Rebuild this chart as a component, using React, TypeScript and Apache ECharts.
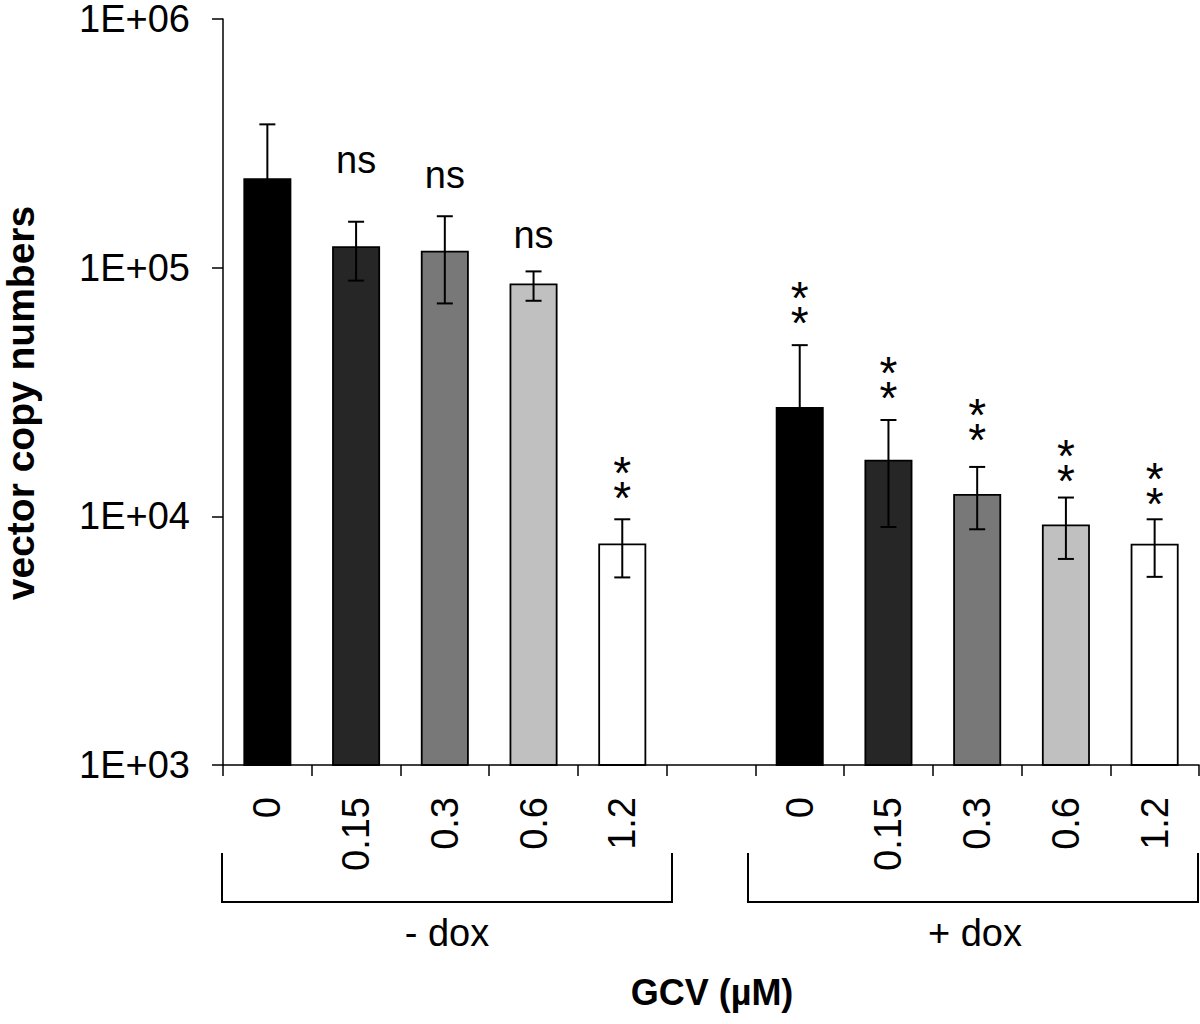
import React, { useEffect, useRef } from "react";
import * as echarts from "echarts";

const categories = ["0", "0.15", "0.3", "0.6", "1.2", "", "0", "0.15", "0.3", "0.6", "1.2"];
const meanValues = [229000, 122000, 117000, 86400, 7780, null, 27500, 16900, 12300, 9270, 7760];
const errHigh = [377000, 153000, 161000, 96600, 9730, null, 48800, 24400, 15800, 11900, 9730];
const errLow = [81000, 88700, 71800, 73600, 5680, null, 6200, 9060, 8870, 6740, 5710];
const barColors = ["#000000", "#262626", "#787878", "#c0c0c0", "#ffffff", "#ffffff", "#000000", "#262626", "#787878", "#c0c0c0", "#ffffff"];
const annotations = ["", "ns", "ns", "ns", "*\n*", "", "*\n*", "*\n*", "*\n*", "*\n*", "*\n*"];
const annotationAt = [null, 270000, 235000, 135000, 14300, null, 72200, 36000, 24500, 16700, 13600];
const yTickLabels: Record<number, string> = { 1000: "1E+03", 10000: "1E+04", 100000: "1E+05", 1000000: "1E+06" };
const groupLabels = ["- dox", "+ dox"];
const xTitle = "GCV (µM)";
const yTitle = "vector copy numbers";

const FONT = "'Liberation Sans', Arial, Helvetica, sans-serif";

export default function App() {
  const ref = useRef<HTMLDivElement>(null);
  useEffect(() => {
    if (!ref.current) return;
    const chart = echarts.init(ref.current, null, { renderer: "svg" });

    const barData = meanValues.map((v, i) =>
      v == null
        ? null
        : { value: v, itemStyle: { color: barColors[i], borderColor: "#000", borderWidth: 1.8 } }
    );
    const errData = meanValues
      .map((v, i) => (v == null ? null : [i, errLow[i], errHigh[i]]))
      .filter((d) => d != null);
    const annData = annotations
      .map((t, i) => (t ? [i, annotationAt[i], t] : null))
      .filter((d) => d != null);

    const option: any = {
      animation: false,
      backgroundColor: "#ffffff",
      textStyle: { fontFamily: FONT },
      grid: { left: 223, top: 19, right: 1, bottom: 259, containLabel: false },
      xAxis: {
        type: "category",
        data: categories,
        boundaryGap: true,
        axisLine: { lineStyle: { color: "#000", width: 1.5 } },
        axisTick: { show: true, length: 11, lineStyle: { color: "#000", width: 1.5 }, interval: 0 },
        axisLabel: {
          interval: 0,
          rotate: 90,
          margin: 32,
          fontSize: 38,
          color: "#000",
          fontFamily: FONT,
        },
      },
      yAxis: {
        type: "log",
        logBase: 10,
        min: 1000,
        max: 1000000,
        splitLine: { show: false },
        axisLine: { show: true, lineStyle: { color: "#000", width: 1.5 } },
        axisTick: { show: true, length: 11, lineStyle: { color: "#000", width: 1.5 } },
        axisLabel: {
          margin: 33,
          fontSize: 38,
          color: "#000",
          fontFamily: FONT,
          formatter: (v: number) => yTickLabels[Math.round(v)] ?? "",
        },
      },
      series: [
        {
          type: "bar",
          data: barData,
          barWidth: 48,
          clip: true,
          z: 2,
        },
        {
          type: "custom",
          z: 10,
          clip: false,
          data: errData,
          renderItem: (params: any, api: any) => {
            const x = api.value(0);
            const lo = api.value(1);
            const hi = api.value(2);
            const pHi = api.coord([x, hi]);
            const pLo = api.coord([x, lo]);
            const half = 8;
            const st = { stroke: "#000", lineWidth: 2 };
            return {
              type: "group",
              children: [
                { type: "line", shape: { x1: pHi[0], y1: pHi[1], x2: pLo[0], y2: pLo[1] }, style: st },
                { type: "line", shape: { x1: pHi[0] - half, y1: pHi[1], x2: pHi[0] + half, y2: pHi[1] }, style: st },
                { type: "line", shape: { x1: pLo[0] - half, y1: pLo[1], x2: pLo[0] + half, y2: pLo[1] }, style: st },
              ],
            };
          },
        },
        {
          type: "custom",
          z: 11,
          clip: false,
          data: annData,
          renderItem: (params: any, api: any) => {
            const idx = params.dataIndex;
            const d: any = annData[idx];
            const p = api.coord([d[0], d[1]]);
            const isStar = d[2] !== "ns";
            return {
              type: "text",
              x: p[0],
              y: p[1] + (isStar ? 8 : 0),
              style: {
                text: d[2],
                fill: "#000",
                font: `${isStar ? 46 : 38}px ${FONT}`,
                align: "center",
                verticalAlign: "middle",
                lineHeight: isStar ? 25 : 38,
              },
            };
          },
        },
      ],
      graphic: [
        {
          type: "polyline",
          shape: { points: [[222, 853], [222, 902], [672, 902], [672, 853]] },
          style: { stroke: "#000", lineWidth: 2, fill: null },
        },
        {
          type: "polyline",
          shape: { points: [[748, 853], [748, 902], [1198, 902], [1198, 853]] },
          style: { stroke: "#000", lineWidth: 2, fill: null },
        },
        {
          type: "text",
          x: 447,
          y: 933,
          style: { text: groupLabels[0], font: `38px ${FONT}`, fill: "#000", align: "center", verticalAlign: "middle" },
        },
        {
          type: "text",
          x: 975,
          y: 933,
          style: { text: groupLabels[1], font: `38px ${FONT}`, fill: "#000", align: "center", verticalAlign: "middle" },
        },
        {
          type: "text",
          x: 712,
          y: 992,
          style: { text: xTitle, font: `bold 36px ${FONT}`, fill: "#000", align: "center", verticalAlign: "middle" },
        },
        {
          type: "text",
          x: 20,
          y: 403,
          rotation: Math.PI / 2,
          style: { text: yTitle, font: `bold 39px ${FONT}`, fill: "#000", align: "center", verticalAlign: "middle" },
        },
      ],
    };
    chart.setOption(option);
    return () => chart.dispose();
  }, []);

  return (
    <div
      ref={ref}
      style={{ position: "absolute", left: 0, top: 0, width: 1200, height: 1024, background: "#fff" }}
    />
  );
}
